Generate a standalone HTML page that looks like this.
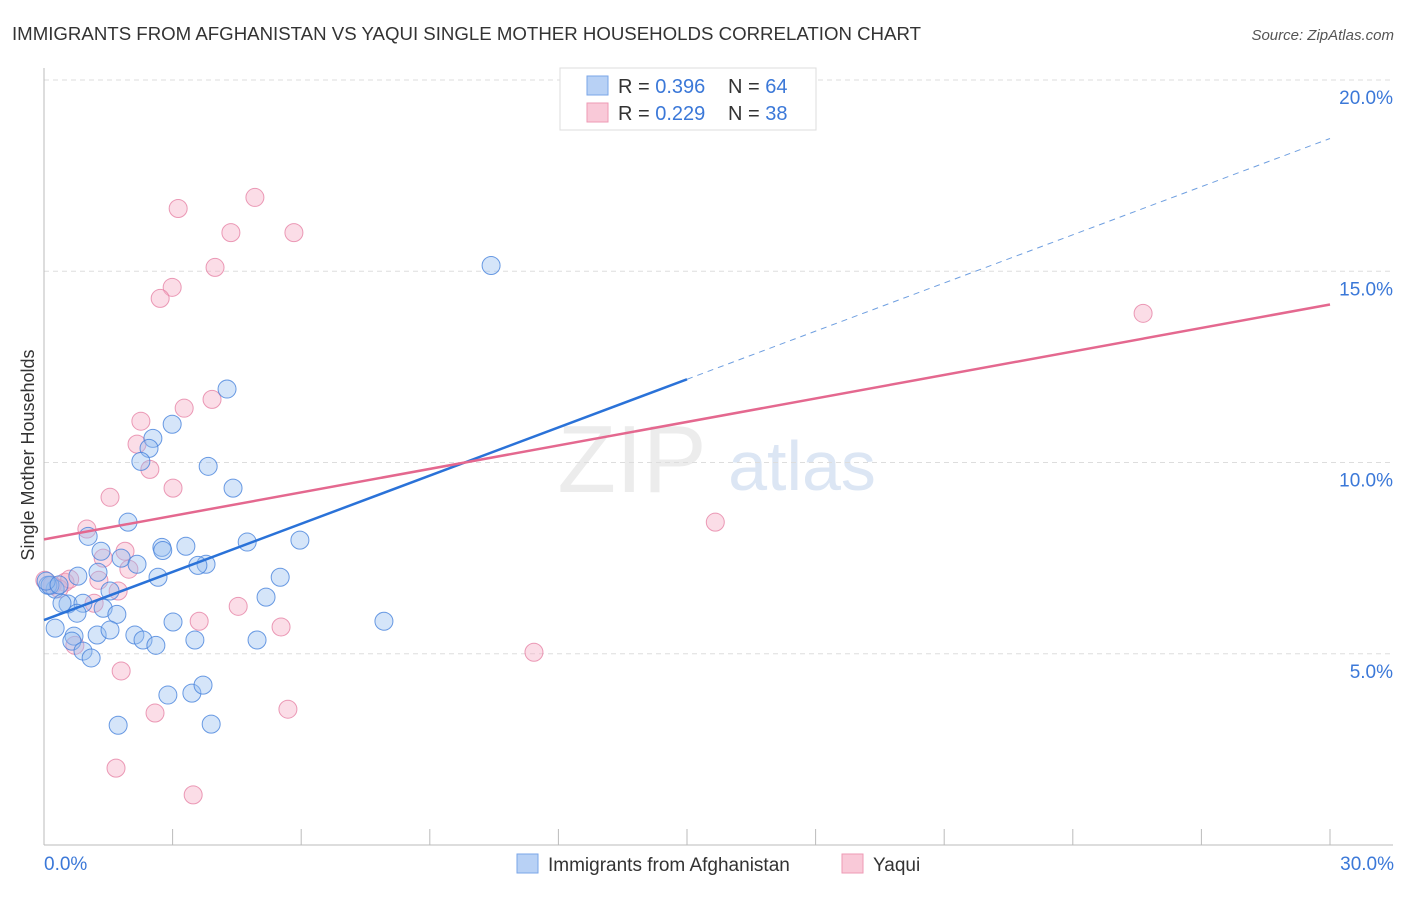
<!DOCTYPE html>
<html><head><meta charset="utf-8"><style>
body{margin:0;background:#fff;font-family:"Liberation Sans",sans-serif;}
svg text{font-family:"Liberation Sans",sans-serif;}
</style></head><body>
<svg id="chart" width="1406" height="892" xmlns="http://www.w3.org/2000/svg">
<text x="12" y="40" font-size="18" fill="#333" textLength="909" lengthAdjust="spacingAndGlyphs">IMMIGRANTS FROM AFGHANISTAN VS YAQUI SINGLE MOTHER HOUSEHOLDS CORRELATION CHART</text>
<text x="1394" y="40" font-size="15" fill="#555" font-style="italic" text-anchor="end">Source: ZipAtlas.com</text>
<text x="632" y="492" font-size="96" fill="#ececec" font-family="Liberation Serif" text-anchor="middle">ZIP</text>
<text x="802" y="490" font-size="70" fill="#dce6f4" text-anchor="middle">atlas</text>
<text transform="translate(34,455) rotate(-90)" font-size="18" fill="#333" text-anchor="middle">Single Mother Households</text>
<g id="grid"></g>
<g id="points"></g>
<g id="lines"></g>
<g>
<rect x="560" y="68" width="256" height="62" fill="#fff" stroke="#ddd"/>
<rect x="587" y="76" width="21" height="19" fill="#b8d1f5" stroke="#7aa6e8"/>
<rect x="587" y="103" width="21" height="19" fill="#f9c9d8" stroke="#ee9ab5"/>
<text x="618" y="93" font-size="20" fill="#333">R = <tspan fill="#3b78d8">0.396</tspan></text>
<text x="728" y="93" font-size="20" fill="#333">N = <tspan fill="#3b78d8">64</tspan></text>
<text x="618" y="120" font-size="20" fill="#333">R = <tspan fill="#3b78d8">0.229</tspan></text>
<text x="728" y="120" font-size="20" fill="#333">N = <tspan fill="#3b78d8">38</tspan></text>
</g>
<g>
<rect x="517" y="854" width="21" height="19" fill="#b8d1f5" stroke="#7aa6e8"/>
<text x="548" y="871" font-size="19" fill="#333">Immigrants from Afghanistan</text>
<rect x="842" y="854" width="21" height="19" fill="#f9c9d8" stroke="#ee9ab5"/>
<text x="873" y="871" font-size="19" fill="#333">Yaqui</text>
</g>
</svg>
<script>
const xTicks=[0,3,6,9,12,15,18,21,24,27,30];
const yTicks=[5,10,15,20];
const yTickLabels=["5.0%","10.0%","15.0%","20.0%"];
const blueX=[10.43,4.27,2.99,2.54,2.45,2.26,3.83,4.41,1.96,1.03,1.33,2.75,3.31,4.74,5.97,1.80,2.17,3.78,3.59,2.66,0.79,1.26,5.51,1.54,0.26,0.09,0.56,0.91,1.38,1.70,5.18,0.26,0.70,0.65,1.24,1.54,2.12,2.31,2.61,3.01,3.52,4.97,7.93,0.91,1.10,2.89,3.45,3.71,1.73,3.90,0.14,0.42,0.77,0.05,2.77,0.35];
const blueY=[15.15,11.92,11.00,10.63,10.37,10.03,9.90,9.33,8.44,8.07,7.68,7.78,7.81,7.92,7.97,7.50,7.34,7.34,7.31,7.00,7.03,7.13,7.00,6.64,6.69,6.79,6.30,6.32,6.19,6.03,6.48,5.67,5.46,5.33,5.49,5.62,5.49,5.36,5.22,5.83,5.36,5.36,5.85,5.07,4.89,3.92,3.97,4.18,3.13,3.16,6.79,6.32,6.06,6.90,7.70,6.80];
const pinkX=[4.92,3.13,4.36,5.83,3.99,2.99,2.71,25.64,3.92,3.27,2.26,2.17,2.47,3.01,1.54,15.66,1.00,1.38,1.89,1.98,1.28,0.49,0.19,1.73,1.17,4.53,3.62,5.53,0.72,11.43,1.80,2.59,5.69,1.68,3.48,0.02,0.35,0.60];
const pinkY=[16.93,16.64,16.01,16.01,15.10,14.58,14.29,13.90,11.65,11.42,11.08,10.48,9.82,9.33,9.09,8.44,8.26,7.50,7.68,7.21,6.92,6.87,6.79,6.64,6.32,6.24,5.85,5.70,5.22,5.04,4.55,3.45,3.55,2.01,1.31,6.92,6.70,6.95];
const blueTrend=[5.88,0.4197];
const pinkTrend=[7.99,0.2047];
const NS="http://www.w3.org/2000/svg";
const X0=44,X1=1330,YB=845,YT=80;
const sx=v=>X0+(v/30)*(X1-X0);
const sy=v=>YB-(v/20)*(YB-YT);
function mk(t,a,p){const e=document.createElementNS(NS,t);for(const k in a)e.setAttribute(k,a[k]);p.appendChild(e);return e;}
const grid=document.getElementById('grid');
yTicks.forEach((t,i)=>{
 const l=mk('line',{x1:X0,x2:1393,y1:sy(t),y2:sy(t),stroke:'#ddd','stroke-dasharray':'5,4'},grid);
 
 
 const tx=mk('text',{x:1393,y:sy(t)+24,'font-size':19,fill:'#3b78d8','text-anchor':'end'},grid);
 tx.textContent=yTickLabels[i];
 
 
});
const ax=mk('line',{x1:X0,x2:X0,y1:68,y2:YB,stroke:'#bbb'},grid);


const bx=mk('line',{x1:X0,x2:1393,y1:YB,y2:YB,stroke:'#bbb'},grid);


xTicks.forEach(t=>{
 const l=mk('line',{x1:sx(t),x2:sx(t),y1:829,y2:YB,stroke:'#bbb'},grid);
 
 
});
const xl0=mk('text',{x:44,y:870,'font-size':19,fill:'#3b78d8'},grid);xl0.textContent='0.0%';


const xl1=mk('text',{x:1394,y:870,'font-size':19,fill:'#3b78d8','text-anchor':'end'},grid);xl1.textContent='30.0%';


const pts=document.getElementById('points');
pinkX.forEach((v,i)=>{
 const c=mk('circle',{cx:sx(v),cy:sy(pinkY[i]),r:9,fill:'rgba(245,170,195,0.4)',stroke:'rgba(230,130,165,0.8)','stroke-width':1},pts);
 
 
});
blueX.forEach((v,i)=>{
 const c=mk('circle',{cx:sx(v),cy:sy(blueY[i]),r:9,fill:'rgba(150,190,240,0.4)',stroke:'rgba(70,130,220,0.8)','stroke-width':1},pts);
 
 
});
const ln=document.getElementById('lines');
const b1=mk('line',{x1:sx(0),y1:sy(blueTrend[0]),x2:sx(15),y2:sy(blueTrend[0]+15*blueTrend[1]),stroke:'#2a72d8','stroke-width':2.5},ln);


const b2=mk('line',{x1:sx(15),y1:sy(blueTrend[0]+15*blueTrend[1]),x2:sx(30),y2:sy(blueTrend[0]+30*blueTrend[1]),stroke:'#6f9fe0','stroke-width':1,'stroke-dasharray':'6,5'},ln);


const p1=mk('line',{x1:sx(0),y1:sy(pinkTrend[0]),x2:sx(30),y2:sy(pinkTrend[0]+30*pinkTrend[1]),stroke:'#e4688f','stroke-width':2.5},ln);


</script>
</body></html>
